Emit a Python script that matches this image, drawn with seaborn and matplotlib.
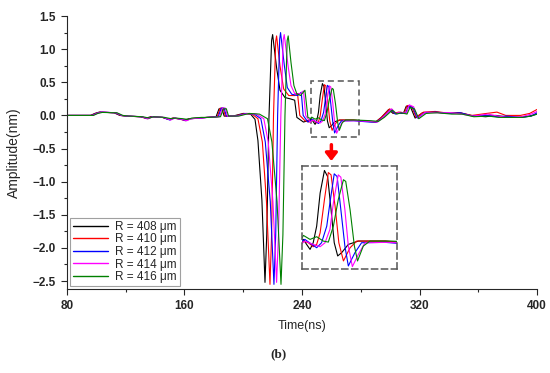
import numpy as np
import pandas as pd
import matplotlib
matplotlib.use('Agg')
import matplotlib.pyplot as plt
from matplotlib.patches import Rectangle
from matplotlib.ticker import MultipleLocator
import seaborn as sns

# Waveforms: (time ns, amplitude nm)
wave_408 = [
    (80, 0), (96, 0), (99, 0.03), (102, 0.05), (112, 0.04), (116, 0.0), (120, -0.01),
    (130, -0.02), (134, -0.04), (137, -0.02), (145, -0.03), (149, -0.06), (152, -0.04),
    (157, -0.05), (160, -0.07), (163, -0.05), (170, -0.04), (175, -0.03), (181.5, -0.02),
    (183.5, 0.1), (185.5, 0.1), (187, -0.01), (193, -0.01), (200, 0.03), (205, 0.02),
    (208, -0.06), (210, -0.38), (212.7, -1.28), (214.8, -2.52), (216, -1.8), (217.5, -0.03),
    (219.3, 1.13), (220, 1.22), (222.7, 0.72), (225, 0.38), (228.4, 0.27), (232, 0.25),
    (235, 0.23), (236.5, -0.03), (241, -0.1), (244, -0.08),
    (246.6, -0.057), (247.7, -0.096), (248.9, -0.135), (250.0, -0.083), (251.2, 0.046),
    (252.4, 0.304), (253.9, 0.48), (255.0, 0.433), (256.2, 0.175), (257.3, -0.083),
    (258.5, -0.186), (259.9, -0.16), (262.2, -0.096), (265.7, -0.07),
    (275, -0.07), (285, -0.09), (290, -0.1), (294, -0.03), (299, 0.09), (302, 0.03),
    (305, 0.04), (309, 0.03), (311, 0.14), (314, 0.12), (317, -0.04), (322, 0.04),
    (330, 0.05), (340, 0.03), (347, 0.04), (355, 0.0), (365, -0.02), (372, 0.0),
    (378, -0.02), (388, -0.03), (395, -0.01), (400, 0.02),
]
wave_410 = [
    (80, 0), (96.5, 0), (99.5, 0.03), (102.5, 0.05), (112.5, 0.04), (116.5, 0.0), (120.5, -0.01),
    (130, -0.02), (134.5, -0.05), (137.5, -0.02), (145, -0.03), (149.5, -0.06), (152.5, -0.04),
    (157.5, -0.06), (160.5, -0.08), (163.5, -0.05), (170, -0.04), (175, -0.03), (182.3, -0.02),
    (184.3, 0.11), (186.3, 0.11), (187.8, -0.01), (194, -0.01), (201, 0.03), (206, 0.02),
    (210, -0.05), (213, -0.4), (215.8, -1.3), (218.2, -2.55), (219.3, -1.8), (220.6, 0.0),
    (222.1, 1.12), (222.7, 1.2), (225, 0.75), (227.5, 0.4), (231, 0.3), (235, 0.3),
    (237, 0.32), (238.5, 0.0), (242, -0.08), (245, -0.1),
    (246.6, -0.07), (248.3, -0.083), (250.0, -0.114), (251.2, -0.096), (252.4, -0.006),
    (253.9, 0.253), (255.25, 0.464), (256.2, 0.446), (257.6, 0.201), (258.9, -0.083),
    (260.5, -0.225), (262.8, -0.122), (265.1, -0.07),
    (275, -0.07), (285.5, -0.09), (290.5, -0.1), (294.5, -0.02), (299.7, 0.1), (302.7, 0.03),
    (305.7, 0.05), (309.7, 0.04), (311.7, 0.15), (314.7, 0.13), (317.7, -0.03), (322.7, 0.05),
    (330.7, 0.06), (340.7, 0.03), (347.7, 0.04), (355.7, 0.0), (365.7, 0.03), (372.7, 0.05),
    (378.7, 0.0), (388.7, 0.0), (395, 0.03), (400, 0.09),
]
wave_412 = [
    (80, 0), (97, 0), (100, 0.03), (103, 0.05), (113, 0.04), (117, 0.0), (121, -0.01),
    (130.5, -0.02), (135, -0.05), (138, -0.02), (145.5, -0.03), (150, -0.07), (153, -0.04),
    (158, -0.06), (161, -0.08), (164, -0.05), (170.5, -0.04), (175.5, -0.03), (183, -0.02),
    (185, 0.11), (187, 0.11), (188.5, -0.01), (195, -0.01), (202, 0.03), (207.5, 0.02),
    (212, -0.05), (215, -0.4), (218.4, -1.3), (220.9, -2.55), (222.1, -1.8), (223.4, 0.0),
    (224.8, 1.15), (225.4, 1.25), (228, 0.75), (230, 0.42), (233, 0.32), (237, 0.3),
    (239.5, 0.35), (240.8, 0.0), (244, -0.1),
    (247.1, -0.057), (249.5, -0.096), (251.2, -0.122), (252.9, -0.083), (254.7, 0.046),
    (255.8, 0.227), (257.3, 0.454), (258.3, 0.433), (259.6, 0.175), (261.0, -0.109),
    (262.2, -0.264), (264.5, -0.16), (266.8, -0.083),
    (275, -0.08), (286, -0.1), (291, -0.1), (295, -0.03), (300.5, 0.09), (303.5, 0.02),
    (306.5, 0.04), (310.5, 0.03), (312.5, 0.14), (315.5, 0.12), (318.5, -0.04), (323.5, 0.04),
    (331, 0.05), (341, 0.03), (348, 0.04), (356, -0.01), (366, 0.0), (373, -0.02),
    (379, -0.01), (389, -0.03), (396, -0.01), (400, 0.04),
]
wave_414 = [
    (80, 0), (97.5, 0), (100.5, 0.03), (103.5, 0.05), (113.5, 0.04), (117.5, 0.0), (121.5, -0.01),
    (131, -0.02), (135.5, -0.05), (138.5, -0.02), (146, -0.03), (150.5, -0.07), (153.5, -0.04),
    (158.5, -0.06), (161.5, -0.08), (164.5, -0.05), (171, -0.04), (176, -0.03), (183.8, -0.02),
    (185.8, 0.11), (187.8, 0.11), (189.3, -0.01), (196, -0.01), (203, 0.03), (209, 0.02),
    (214, -0.05), (217, -0.4), (220.2, -1.3), (222.7, -2.52), (224, -1.8), (225.6, 0.0),
    (227.2, 1.14), (227.9, 1.22), (230.5, 0.75), (232.5, 0.45), (235, 0.33), (239, 0.33),
    (241, 0.37), (242.5, 0.0), (245.5, -0.1),
    (247.1, -0.07), (250.0, -0.096), (252.4, -0.114), (254.1, -0.083), (255.8, 0.02),
    (257.0, 0.227), (258.7, 0.446), (259.6, 0.428), (261.0, 0.175), (262.2, -0.109),
    (263.6, -0.269), (265.7, -0.173), (268.0, -0.083),
    (276, -0.08), (286.5, -0.09), (291.5, -0.1), (295.5, -0.02), (301, 0.1), (304, 0.03),
    (307, 0.05), (311, 0.03), (313, 0.16), (316, 0.13), (319, -0.04), (324, 0.05),
    (331.5, 0.04), (341.5, 0.04), (348.5, 0.02), (356.5, -0.01), (366.5, 0.02), (373.5, -0.01),
    (379.5, -0.03), (389.5, -0.02), (396, 0.02), (400, 0.06),
]
wave_416 = [
    (80, 0), (98, 0), (101, 0.03), (104, 0.045), (114, 0.04), (118, 0.0), (122, -0.01),
    (131.5, -0.02), (136, -0.04), (139, -0.02), (146.5, -0.03), (151, -0.05), (154, -0.04),
    (159, -0.05), (162, -0.06), (165, -0.04), (171.5, -0.03), (176.5, -0.03), (184.5, -0.02),
    (186.5, 0.1), (188.5, 0.1), (190, -0.01), (197, -0.01), (204, 0.03), (211, 0.02),
    (216.5, -0.05), (219.5, -0.4), (223, -1.3), (225.7, -2.55), (227, -1.8), (228.4, 0.0),
    (229.9, 1.13), (230.6, 1.2), (232.5, 0.8), (234.5, 0.45), (236.4, 0.33), (239, 0.3),
    (242, 0.38), (244, -0.03), (246, -0.05),
    (246.6, -0.026), (248.9, -0.057), (251.2, -0.036), (253.5, -0.07), (255.25, -0.078),
    (257.0, 0.046), (258.7, 0.253), (260.5, 0.408), (261.3, 0.395), (262.8, 0.175),
    (264.3, -0.109), (265.4, -0.225), (267.4, -0.109), (269.7, -0.07),
    (277, -0.07), (287, -0.08), (292, -0.09), (296, -0.03), (301.5, 0.08), (304.5, 0.02),
    (307.5, 0.04), (311.5, 0.02), (313.5, 0.12), (316.5, 0.1), (319.5, -0.05), (324.5, 0.03),
    (332, 0.04), (342, 0.02), (349, 0.02), (357, -0.02), (367, -0.01), (374, -0.03),
    (380, -0.03), (390, -0.03), (396, -0.01), (400, 0.02),
]

labels = ['R = 408 μm', 'R = 410 μm', 'R = 412 μm', 'R = 414 μm', 'R = 416 μm']
waves = [wave_408, wave_410, wave_412, wave_414, wave_416]
colors = ['black', '#ff0000', '#0000ff', '#ff00ff', '#008000']

x_ticks = [80, 160, 240, 320, 400]
y_ticks = [1.5, 1.0, 0.5, 0.0, -0.5, -1.0, -1.5, -2.0, -2.5]
zoom_x = (246, 279)
zoom_y = (-0.32, 0.52)

rows = []
for lab, w in zip(labels, waves):
    for t, a in w:
        rows.append({'Time': t, 'Amplitude': a, 'R': lab})
df = pd.DataFrame(rows)

sns.set_style('ticks')
plt.rcParams['font.family'] = ['Liberation Sans', 'DejaVu Sans']
plt.rcParams['axes.linewidth'] = 0.8

fig = plt.figure(figsize=(5.5, 3.73), dpi=100)
ax = fig.add_axes([0.1218, 0.2252, 0.8546, 0.7318])

sns.lineplot(data=df, x='Time', y='Amplitude', hue='R', palette=colors,
             sort=False, estimator=None, linewidth=0.8, ax=ax)

ax.set_xlim(80, 400)
ax.set_ylim(-2.62, 1.5)
ax.set_xticks(x_ticks)
ax.set_yticks(y_ticks)
ax.xaxis.set_minor_locator(MultipleLocator(40))
ax.yaxis.set_minor_locator(MultipleLocator(0.25))
ax.yaxis.set_major_formatter(plt.FuncFormatter(lambda v, p: f'{v:.1f}'.replace('-', '\u2212')))
ax.tick_params(which='major', direction='out', length=4, width=0.8, labelsize=8.5, pad=4)
ax.tick_params(which='minor', direction='out', length=2, width=0.8)
for lbl in ax.get_xticklabels() + ax.get_yticklabels():
    lbl.set_fontweight('bold')
ax.set_xlabel('Time(ns)', fontsize=9, labelpad=6)
ax.set_ylabel('Amplitude(nm)', fontsize=10, labelpad=8)
sns.despine(ax=ax)

leg = ax.legend(loc='lower left', fontsize=8.5, frameon=True, fancybox=False,
                edgecolor='#888888', handlelength=3.0, borderaxespad=0.25,
                borderpad=0.25, labelspacing=0.05, handletextpad=0.6)
leg.get_frame().set_linewidth(0.8)
for h in leg.get_lines():
    h.set_linewidth(1.0)

# dashed box around the zoomed region
ax.add_patch(Rectangle((zoom_x[0], zoom_y[0]), zoom_x[1] - zoom_x[0], zoom_y[1] - zoom_y[0],
                       fill=False, edgecolor='#555555', linestyle=(0, (4, 2.5)), linewidth=1.1))
ax.annotate('', xy=(260, -0.73), xytext=(260, -0.40),
            arrowprops=dict(arrowstyle='-|>,head_width=0.35,head_length=0.45',
                            color='#ff0000', lw=2.5))

# inset
ins = fig.add_axes([301.7 / 550, 1 - 269.3 / 373, 95 / 550, 103.3 / 373])
sns.lineplot(data=df, x='Time', y='Amplitude', hue='R', palette=colors,
             sort=False, estimator=None, linewidth=0.8, ax=ins, legend=False)
ins.set_xlim(*zoom_x)
ins.set_ylim(-0.29, 0.515)
ins.set_xticks([])
ins.set_yticks([])
ins.set_xlabel('')
ins.set_ylabel('')
for s in ins.spines.values():
    s.set_linestyle((0, (4, 2.5)))
    s.set_edgecolor('#555555')
    s.set_linewidth(1.1)

fig.text(0.507, 0.05, '(b)', ha='center', va='center', fontsize=9.5, fontweight='bold',
         family=['Liberation Serif', 'DejaVu Serif'])

fig.savefig('out.png', dpi=100)
